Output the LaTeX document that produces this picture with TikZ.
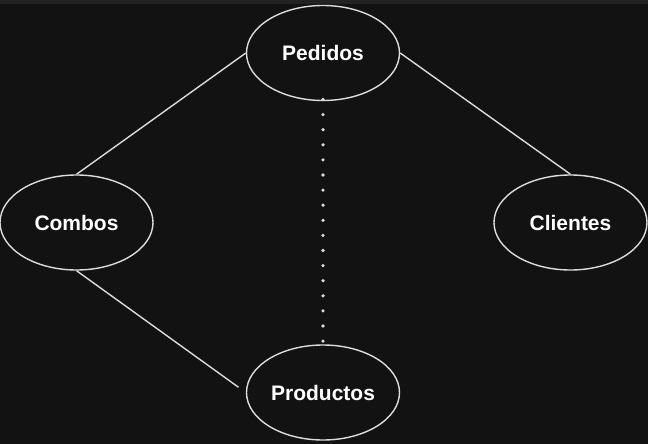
\documentclass[tikz,border=0pt]{standalone}
\usepackage{fontspec}
\setmainfont{Liberation Sans}
\usetikzlibrary{shapes.geometric}
\definecolor{bgc}{HTML}{121212}
\definecolor{stripc}{HTML}{232323}
\definecolor{linec}{HTML}{DCDCDC}
\begin{document}
\begin{tikzpicture}[x=1pt,y=-1pt,
  ent/.style={ellipse,draw=linec,line width=1.4pt,inner sep=0pt,
    minimum width=153pt,minimum height=95pt,text=white,
    font=\fontsize{21}{24}\selectfont\bfseries},
  rel/.style={draw=linec,line width=1.4pt},
  dotrel/.style={draw=linec,line width=3.6pt,line cap=round,dash pattern=on 0pt off 15.1pt}]
\fill[bgc] (0,0) rectangle (648,444);
\fill[stripc] (0,0) rectangle (648,4);
\useasboundingbox (0,0) rectangle (648,444);
\node[ent] (ped) at (323,53) {Pedidos};
\node[ent] (com) at (76.5,222.5) {Combos};
\node[ent] (cli) at (570.5,222.5) {Clientes};
\node[ent] (pro) at (323,392.5) {Productos};
\draw[rel] (ped.west) -- (com.north);
\draw[rel] (ped.east) -- (cli.north);
\draw[rel,shorten >=9pt] (com.south) -- (pro.west);
\draw[dotrel] ([yshift=1.7pt]ped.south) -- (pro.north);
\end{tikzpicture}
\end{document}
